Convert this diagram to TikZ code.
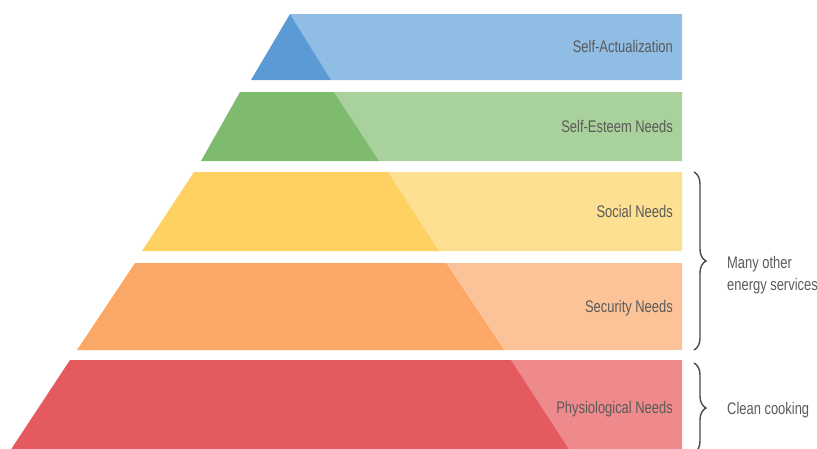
\documentclass[tikz,border=0pt]{standalone}
\usepackage{fontspec}
\setmainfont[FakeStretch=0.77]{Liberation Sans}
\usetikzlibrary{decorations.pathreplacing}
\definecolor{bluedk}{HTML}{5B9BD5}
\definecolor{bluelt}{HTML}{8FBDE4}
\definecolor{greendk}{HTML}{7EBB6F}
\definecolor{greenlt}{HTML}{A9D19B}
\definecolor{yellowdk}{HTML}{FED162}
\definecolor{yellowlt}{HTML}{FEE093}
\definecolor{orangedk}{HTML}{FBA765}
\definecolor{orangelt}{HTML}{FCC398}
\definecolor{reddk}{HTML}{E45A5E}
\definecolor{redlt}{HTML}{EE8A8C}
\definecolor{txt}{HTML}{5A5A5A}
\definecolor{brcol}{HTML}{4A4A4A}
\tikzset{
  lbl/.style={anchor=mid east, text=txt, inner sep=0pt, font=\fontsize{16.8}{22}\selectfont},
  side/.style={anchor=west, text=txt, inner sep=0pt, align=left, font=\fontsize{16.8}{22}\selectfont},
  brc/.style={draw=brcol, line width=1.4pt, decorate, decoration={brace, amplitude=12pt}}
}
\begin{document}
\begin{tikzpicture}[x=1pt, y=-1pt]
\useasboundingbox (0,0) rectangle (817,448);
\clip (0,0) rectangle (817,448);
% band 1
\fill[bluelt] (290,14) -- (682,14) -- (682,80) -- (331,80) -- cycle;
\fill[bluedk] (290,14) -- (331,80) -- (251,80) -- cycle;
% band 2
\fill[greenlt] (334,92) -- (682,92) -- (682,161) -- (379,161) -- cycle;
\fill[greendk] (240,92) -- (334,92) -- (379,161) -- (201,161) -- cycle;
% band 3
\fill[yellowlt] (388,172) -- (682,172) -- (682,251) -- (439,251) -- cycle;
\fill[yellowdk] (194,172) -- (388,172) -- (439,251) -- (142,251) -- cycle;
% band 4
\fill[orangelt] (446,263) -- (682,263) -- (682,350) -- (504,350) -- cycle;
\fill[orangedk] (135,263) -- (446,263) -- (504,350) -- (77,350) -- cycle;
% band 5
\fill[redlt] (511,360) -- (682,360) -- (682,460) -- (576,460) -- cycle;
\fill[reddk] (70,360) -- (511,360) -- (576,460) -- (4,460) -- cycle;
% labels
\node[lbl] (sa) at (673,49.5) {Self-Actualization};
\node[lbl] (se) at (673,129.5) {Self-Esteem Needs};
\node[lbl] (so) at (673,214.5) {Social Needs};
\node[lbl] (sc) at (673,309.5) {Security Needs};
\node[lbl] (ph) at (673,410.5) {Physiological Needs};
% braces
\coordinate (b1t) at (694,172);
\coordinate (b1b) at (694,350);
\coordinate (b2t) at (694,363);
\coordinate (b2b) at (694,453);
\draw[brc] (b1t) -- (b1b);
\draw[brc] (b2t) -- (b2b);
\node[side] (many) at (727,275) {Many other\\energy services};
\node[side] (clean) at (727,410.5) {Clean cooking};
\end{tikzpicture}
\end{document}
